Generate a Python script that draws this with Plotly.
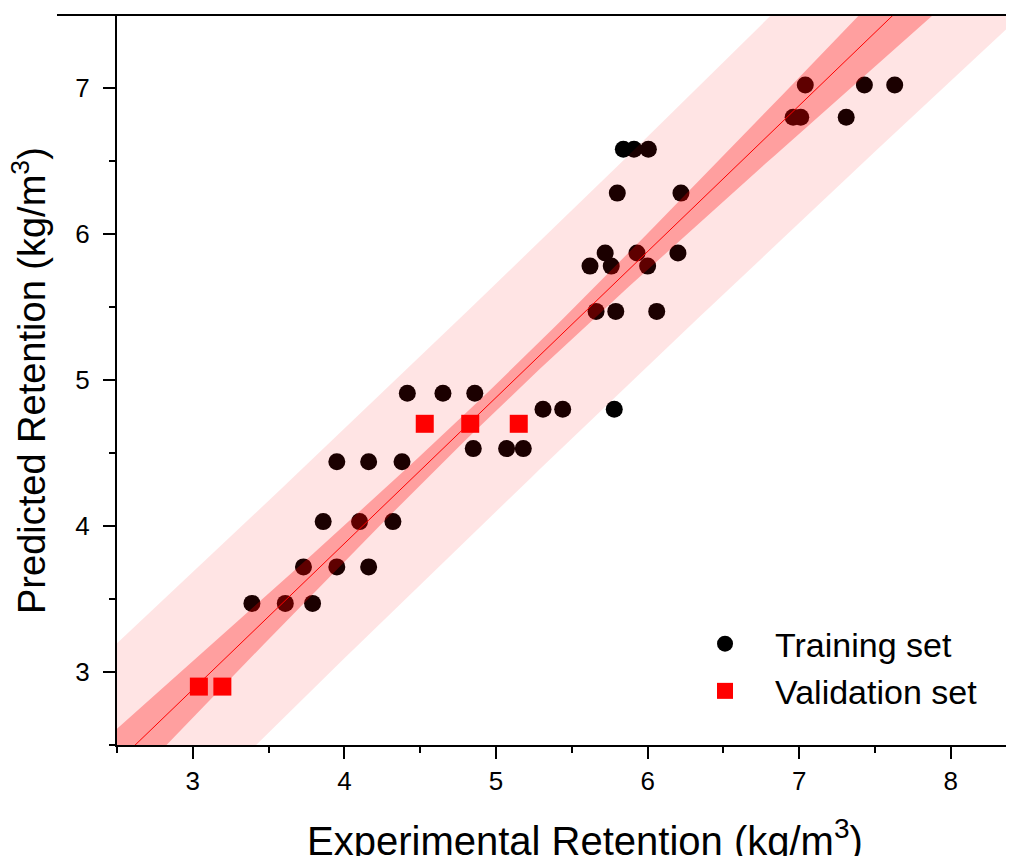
import numpy as np
import plotly.graph_objects as go

# ---- data ----
train_exp = [7.04, 7.43, 7.63,
             6.96, 7.01, 7.31,
             5.84, 5.91, 6.005,
             5.80, 6.22,
             5.72, 5.93, 6.20,
             5.62, 5.76, 6.00,
             5.66, 5.79, 6.06,
             4.415, 4.65, 4.86,
             5.31, 5.44, 5.78,
             4.85, 5.07, 5.18,
             3.95, 4.16, 4.38,
             3.86, 4.10, 4.32,
             3.73, 3.95, 4.16,
             3.39, 3.61, 3.79]
train_pred = [7.02, 7.02, 7.02,
              6.80, 6.80, 6.80,
              6.58, 6.58, 6.58,
              6.28, 6.28,
              5.87, 5.87, 5.87,
              5.78, 5.78, 5.78,
              5.47, 5.47, 5.47,
              4.91, 4.91, 4.91,
              4.80, 4.80, 4.80,
              4.53, 4.53, 4.53,
              4.44, 4.44, 4.44,
              4.03, 4.03, 4.03,
              3.72, 3.72, 3.72,
              3.47, 3.47, 3.47]
val_exp = [4.53, 4.83, 5.15, 3.04, 3.195]
val_pred = [4.70, 4.70, 4.70, 2.90, 2.90]

# fitted line and band parameters
fit_slope = 1.0
fit_intercept = -0.12
band_center = 5.0
ci_min_half = 0.09
ci_spread = 0.085
pi_min_half = 0.78
pi_spread = 0.095
x_span = [2.3, 8.7]

xs = np.linspace(x_span[0], x_span[1], 121)
yfit = fit_slope * xs + fit_intercept
ci = np.sqrt(ci_min_half**2 + ci_spread**2 * (xs - band_center)**2)
pi = np.sqrt(pi_min_half**2 + pi_spread**2 * (xs - band_center)**2)

fig = go.Figure()

fig.add_trace(go.Scatter(x=train_exp, y=train_pred, mode="markers", name="Training set",
                         marker=dict(symbol="circle", size=17, color="#000000")))

# prediction band
fig.add_trace(go.Scatter(x=np.concatenate([xs, xs[::-1]]),
                         y=np.concatenate([yfit + pi, (yfit - pi)[::-1]]),
                         fill="toself", fillcolor="rgba(255,0,0,0.106)",
                         line=dict(width=0), mode="lines", showlegend=False, hoverinfo="skip"))
# confidence band
fig.add_trace(go.Scatter(x=np.concatenate([xs, xs[::-1]]),
                         y=np.concatenate([yfit + ci, (yfit - ci)[::-1]]),
                         fill="toself", fillcolor="rgba(255,0,0,0.30)",
                         line=dict(width=0), mode="lines", showlegend=False, hoverinfo="skip"))
# fit line
fig.add_trace(go.Scatter(x=xs, y=yfit, mode="lines", line=dict(color="#FF0000", width=1),
                         showlegend=False, hoverinfo="skip"))

fig.add_trace(go.Scatter(x=val_exp, y=val_pred, mode="markers", name="Validation set",
                         marker=dict(symbol="square", size=18, color="#FF0000")))

FONT = "Liberation Sans, Arial, sans-serif"
axis_common = dict(showline=True, linewidth=2, linecolor="black", ticks="outside",
                   ticklen=12, tickwidth=2, tickcolor="black", showgrid=False, zeroline=False,
                   tickfont=dict(family=FONT, size=26, color="black"), dtick=1,
                   minor=dict(ticks="outside", ticklen=6, tickwidth=2, tickcolor="black", dtick=0.5))

fig.update_xaxes(range=[2.5, 8.364], tick0=3, **axis_common)
fig.update_yaxes(range=[2.5, 7.5], tick0=3, ticklabelstandoff=8, **axis_common)

fig.update_layout(
    width=998, height=848,
    margin=dict(l=109, r=0, t=7, b=111),
    plot_bgcolor="white", paper_bgcolor="white",
    font=dict(family=FONT, color="black"),
    legend=dict(x=0.6277, y=0.178, xanchor="left", yanchor="top",
                font=dict(family=FONT, size=34, color="black"),
                bgcolor="rgba(0,0,0,0)", itemwidth=90),
    shapes=[dict(type="line", xref="paper", yref="paper", x0=-0.0675, x1=1, y0=1, y1=1,
                 line=dict(color="black", width=2))],
    annotations=[
        dict(text="Experimental Retention (kg/m<sup>3</sup>)", xref="paper", yref="paper",
             x=0.5264, y=-0.128, xanchor="center", yanchor="middle", showarrow=False,
             font=dict(family=FONT, size=40, color="black")),
        dict(text="Predicted Retention (kg/m<sup>3</sup>)", xref="paper", yref="paper",
             x=-0.099, y=0.5, xanchor="center", yanchor="middle", textangle=-90, showarrow=False,
             font=dict(family=FONT, size=38, color="black")),
    ],
)

fig.write_html("out.html")
